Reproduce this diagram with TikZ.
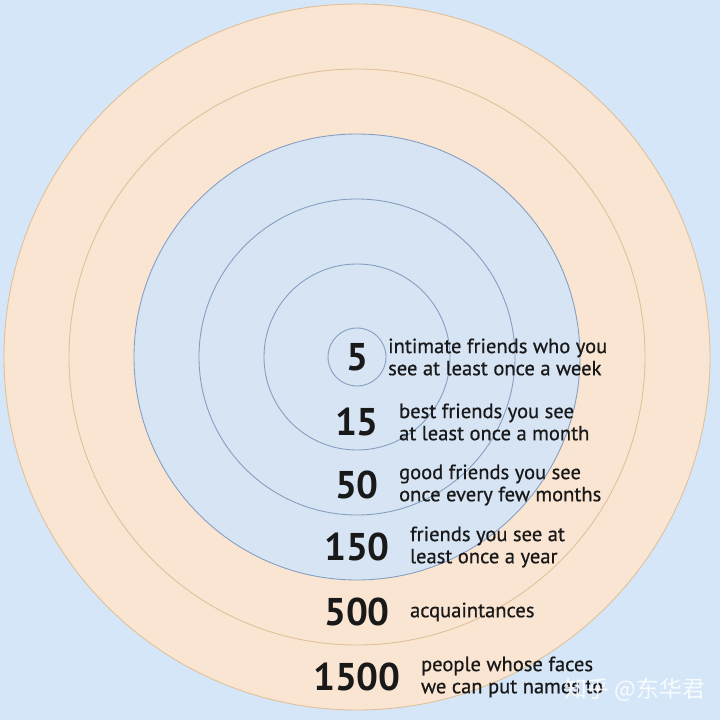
\documentclass[tikz,border=0pt]{standalone}
\usepackage{fontspec}
\setmainfont{PT Sans}
\newfontface\descfont{PT Sans}[FakeBold=0.6]
\newfontfamily\cjk{Noto Sans CJK SC}
\usetikzlibrary{positioning}
\definecolor{bgblue}{RGB}{212, 230, 247}
\definecolor{ringpeach}{RGB}{250, 229, 210}
\definecolor{corebluefill}{RGB}{214, 228, 243}
\definecolor{peachline}{RGB}{224, 192, 152}
\definecolor{blueline}{RGB}{132, 158, 194}

\begin{document}
\begin{tikzpicture}[
    node distance=0.39cm,
    number/.style={inner sep=0pt, font=\fontsize{22}{22}\selectfont\bfseries, text=black!90},
    desc/.style={inner sep=0pt, font=\descfont\fontsize{11.7}{12.6}\selectfont, align=left, text=black!90},
    peachring/.style={draw=peachline, line width=0.5pt},
    bluering/.style={draw=blueline, line width=0.5pt}
]

% Hintergrund
\fill[bgblue] (-7.14, -7.26) rectangle (7.26, 7.14);
\useasboundingbox (-7.14, -7.26) rectangle (7.26, 7.14);

% Ringe aussen
\filldraw[peachring, fill=ringpeach] (0, 0) circle (7.06);
\draw[peachring] (0, 0) circle (5.76);

% Ringe innen
\filldraw[bluering, fill=corebluefill] (0, 0) circle (4.46);
\foreach \r in {3.16, 1.86, 0.58}
    \draw[bluering] (0, 0) circle (\r);

% Zahlen
\node[number] (n5) at (0, 0) {5};
\node[number] (n15) at (0, -1.30) {15};
\node[number] (n50) at (0, -2.56) {50};
\node[number] (n150) at (0, -3.80) {150};
\node[number] (n500) at (0, -5.10) {500};
\node[number] (n1500) at (0, -6.40) {1500};

% Beschreibungen
\node[desc, right=of n5] (d5) {intimate friends who you\\see at least once a week};
\node[desc, right=of n15] (d15) {best friends you see\\at least once a month};
\node[desc, right=of n50] (d50) {good friends you see\\once every few months};
\node[desc, right=of n150] (d150) {friends you see at\\least once a year};
\node[desc, right=of n500] (d500) {acquaintances};
\node[desc, right=of n1500] (d1500) {people whose faces\\we can put names to};

% Wasserzeichen
\node[font=\cjk\fontsize{13}{13}\selectfont, text=white, opacity=0.85] (mark) at (5.55, -6.66) {知乎 @东华君};

\end{tikzpicture}
\end{document}
